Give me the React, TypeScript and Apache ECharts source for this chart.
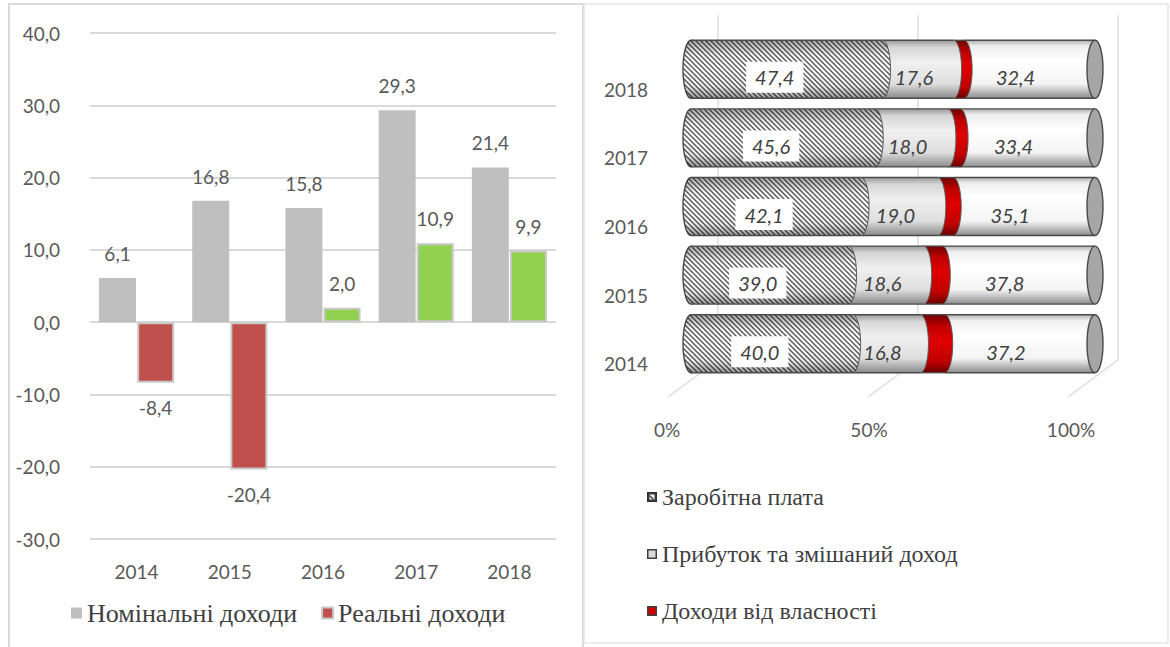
import React, { useEffect, useRef } from "react";
import * as echarts from "echarts";

// ---- Data (left chart) ----
const years = ["2014", "2015", "2016", "2017", "2018"];
const nominalIncome = [6.1, 16.8, 15.8, 29.3, 21.4];
const realIncome = [-8.4, -20.4, 2.0, 10.9, 9.9];
const leftTicks = { min: -30, max: 40, step: 10 };

// ---- Data (right chart, structure %, 2014..2018) ----
const wages = [40.0, 39.0, 42.1, 45.6, 47.4];
const profit = [16.8, 18.6, 19.0, 18.0, 17.6];
const property = [6.0, 4.6, 3.8, 3.0, 2.6];
const transfers = [37.2, 37.8, 35.1, 33.4, 32.4];
const pctTicks = [0, 50, 100];

const NAME_NOM = "Номінальні доходи";
const NAME_REAL = "Реальні доходи";
const NAME_WAGES = "Заробітна плата";
const NAME_PROFIT = "Прибуток та змішаний доход";
const NAME_PROP = "Доходи від власності";
const NAME_TRANSF = "Соціальні допомоги та інші поточні трансферти";

const OUTLINE = "#4a4a4a";
const NUM_FONT = "Lato";
const SERIF = "Liberation Serif";

const fmt = (v: number) => v.toFixed(1).replace(".", ",");

const svgUrl = (svg: string) =>
  "data:image/svg+xml;charset=utf-8," + encodeURIComponent(svg);

const hatchSvg =
  "<svg xmlns='http://www.w3.org/2000/svg' width='5' height='5'>" +
  "<rect width='5' height='5' fill='#ffffff'/>" +
  "<path d='M-1,-1 L6,6 M-1,4 L1,6 M4,-1 L6,1' stroke='#555555' stroke-width='1.3'/></svg>";

const hatchPattern: any = {
  image: svgUrl(hatchSvg),
  repeat: "repeat",
  imageWidth: 5,
  imageHeight: 5,
};

const vGrad = (stops: [number, string][]) => ({
  type: "linear",
  x: 0,
  y: 0,
  x2: 0,
  y2: 1,
  colorStops: stops.map(([offset, color]) => ({ offset, color })),
});

const hatchShade = vGrad([
  [0, "rgba(0,0,0,0.35)"],
  [0.25, "rgba(0,0,0,0.05)"],
  [0.5, "rgba(0,0,0,0)"],
  [0.8, "rgba(0,0,0,0.08)"],
  [1, "rgba(0,0,0,0.4)"],
]);
const greyFill = vGrad([
  [0, "#9a9a9a"],
  [0.12, "#d6d6d6"],
  [0.38, "#f0f0f0"],
  [0.75, "#dedede"],
  [1, "#8a8a8a"],
]);
const redFill = vGrad([
  [0, "#700000"],
  [0.2, "#c00000"],
  [0.45, "#e00000"],
  [0.8, "#c00000"],
  [1, "#6a0000"],
]);
const whiteFill = vGrad([
  [0, "#b0b0b0"],
  [0.1, "#efefef"],
  [0.35, "#ffffff"],
  [0.75, "#f4f4f4"],
  [1, "#8c8c8c"],
]);

const iconUrl = (inner: string) =>
  "image://" +
  svgUrl(
    "<svg xmlns='http://www.w3.org/2000/svg' width='10' height='10'>" + inner + "</svg>"
  );

const iconWages = iconUrl(
  "<rect x='0.75' y='0.75' width='8.5' height='8.5' fill='#404040' stroke='#303030' stroke-width='1.5'/>" +
    "<rect x='2.5' y='2.5' width='5' height='5' fill='#ffffff'/>" +
    "<path d='M2.5,3.5 L6.5,7.5' stroke='#404040' stroke-width='1.6'/>"
);
const iconProfit = iconUrl(
  "<rect x='0.75' y='0.75' width='8.5' height='8.5' fill='#d9d9d9' stroke='#404040' stroke-width='1.5'/>"
);
const iconProp = iconUrl(
  "<rect x='0.75' y='0.75' width='8.5' height='8.5' fill='#d00000' stroke='#404040' stroke-width='1.5'/>"
);

type Kind = "first" | "mid" | "last";

function makeCylinder(kind: Kind, fill: any, shade: any, boxed: boolean, dx: number) {
  return (params: any, api: any) => {
    const s = api.value(0);
    const v = api.value(1);
    const c = api.value(2);
    const a = api.coord([s, c]);
    const b = api.coord([s + v, c]);
    const h = api.size([0, 1])[1] * 0.845;
    const cy = a[1];
    const top = cy - h / 2;
    const rx = 8;
    const ry = h / 2;
    const ch: any[] = [];
    if (kind === "first") {
      ch.push({
        type: "ellipse",
        shape: { cx: a[0], cy, rx, ry },
        style: { fill, stroke: OUTLINE, lineWidth: 1.4 },
      });
      if (shade)
        ch.push({ type: "ellipse", shape: { cx: a[0], cy, rx, ry }, style: { fill: shade } });
    }
    if (kind !== "last") {
      ch.push({
        type: "ellipse",
        shape: { cx: b[0], cy, rx, ry },
        style: { fill, stroke: "#5a5a5a", lineWidth: 1 },
      });
      if (shade)
        ch.push({ type: "ellipse", shape: { cx: b[0], cy, rx, ry }, style: { fill: shade } });
    }
    ch.push({
      type: "rect",
      shape: { x: a[0], y: top, width: b[0] - a[0], height: h },
      style: { fill },
    });
    if (shade)
      ch.push({
        type: "rect",
        shape: { x: a[0], y: top, width: b[0] - a[0], height: h },
        style: { fill: shade },
      });
    ch.push({
      type: "line",
      shape: { x1: a[0], y1: top, x2: b[0], y2: top },
      style: { stroke: OUTLINE, lineWidth: 1.4 },
    });
    ch.push({
      type: "line",
      shape: { x1: a[0], y1: top + h, x2: b[0], y2: top + h },
      style: { stroke: OUTLINE, lineWidth: 1.4 },
    });
    if (kind === "last") {
      ch.push({
        type: "ellipse",
        shape: { cx: b[0], cy, rx, ry },
        style: { fill: "#a6a6a6", stroke: OUTLINE, lineWidth: 1.4 },
      });
    }
    if (kind !== "mid" || v > 10) {
      ch.push({
        type: "text",
        x: (a[0] + b[0]) / 2 + dx,
        y: cy + 8,
        style: {
          text: fmt(v),
          font: "italic 20px " + NUM_FONT,
          fill: "#404040",
          align: "center",
          verticalAlign: "middle",
          backgroundColor: boxed ? "#ffffff" : "transparent",
          padding: boxed ? [6, 9, 5, 9] : 0,
        },
      });
    }
    return { type: "group", children: ch };
  };
}

export default function App() {
  const ref = useRef<HTMLDivElement>(null);

  useEffect(() => {
    if (!ref.current) return;
    const chart = echarts.init(ref.current, undefined, { renderer: "svg" });

    const parts = [wages, profit, property, transfers];
    const starts = parts.map((_, k) =>
      years.map((__, i) => parts.slice(0, k).reduce((acc, arr) => acc + arr[i], 0))
    );
    const segData = (k: number) => years.map((_, i) => [starts[k][i], parts[k][i], i]);

    const labelStyle = { color: "#595959", fontSize: 19, fontFamily: NUM_FONT };

    const option: any = {
      animation: false,
      backgroundColor: "#ffffff",
      graphic: [
        {
          type: "rect",
          shape: { x: 9, y: 4, width: 574, height: 680 },
          style: { fill: "none", stroke: "#d9d9d9", lineWidth: 2 },
          silent: true,
          z: -1,
        },
        {
          type: "rect",
          shape: { x: 584, y: 4, width: 584, height: 639 },
          style: { fill: "none", stroke: "#e6e6e6", lineWidth: 1.5 },
          silent: true,
          z: -1,
        },
      ],
      grid: [
        { left: 90, right: 614, top: 33, bottom: 108 },
        { left: 691, right: 75, top: 35, bottom: 269 },
        { left: 718, right: 52, top: 15, bottom: 287 },
      ],
      xAxis: [
        {
          type: "category",
          gridIndex: 0,
          data: years,
          axisLine: { show: false, onZero: false },
          axisTick: { show: false },
          axisLabel: { ...labelStyle, margin: 23 },
        },
        {
          type: "value",
          gridIndex: 1,
          min: 0,
          max: 100,
          interval: 50,
          axisLine: { show: false },
          axisTick: { show: false },
          splitLine: { show: false },
          axisLabel: {
            ...labelStyle,
            margin: 42,
            padding: [0, 48, 0, 0],
            formatter: "{value}%",
          },
        },
        {
          type: "value",
          gridIndex: 2,
          min: 0,
          max: 100,
          interval: 50,
          axisLine: { show: false },
          axisTick: { show: false },
          axisLabel: { show: false },
          splitLine: { show: true, lineStyle: { color: "#dcdcdc", width: 1.5 } },
        },
      ],
      yAxis: [
        {
          type: "value",
          gridIndex: 0,
          min: leftTicks.min,
          max: leftTicks.max,
          interval: leftTicks.step,
          axisLine: { show: false },
          axisTick: { show: false },
          splitLine: { lineStyle: { color: "#d9d9d9", width: 2 } },
          axisLabel: { ...labelStyle, margin: 30, formatter: (v: number) => fmt(v) },
        },
        {
          type: "category",
          gridIndex: 1,
          data: years,
          axisLine: { show: false },
          axisTick: { show: false },
          axisLabel: {
            ...labelStyle,
            margin: 43,
            verticalAlign: "top",
            lineHeight: 40,
          },
        },
        {
          type: "value",
          gridIndex: 2,
          min: 0,
          max: 1,
          show: false,
        },
      ],
      legend: [
        {
          data: [NAME_NOM, NAME_REAL],
          left: 66,
          top: 595,
          icon: "rect",
          itemWidth: 11,
          itemHeight: 11,
          itemGap: 24,
          textStyle: { fontFamily: SERIF, fontSize: 26, color: "#404040" },
          selectedMode: false,
        },
        {
          data: [
            { name: NAME_WAGES, icon: iconWages },
            { name: NAME_PROFIT, icon: iconProfit },
            { name: NAME_PROP, icon: iconProp },
          ],
          orient: "vertical",
          left: 642,
          top: 480,
          itemWidth: 10,
          itemHeight: 10,
          itemGap: 33,
          textStyle: { fontFamily: SERIF, fontSize: 24, color: "#404040" },
          selectedMode: false,
        },
      ],
      series: [
        {
          name: NAME_NOM,
          type: "bar",
          xAxisIndex: 0,
          yAxisIndex: 0,
          data: nominalIncome,
          barWidth: 37,
          barGap: "3%",
          itemStyle: { color: "#bfbfbf" },
          label: {
            show: true,
            position: "top",
            distance: 15,
            ...labelStyle,
            formatter: (p: any) => fmt(p.value),
          },
        },
        {
          name: NAME_REAL,
          type: "bar",
          xAxisIndex: 0,
          yAxisIndex: 0,
          barWidth: 37,
          barGap: "3%",
          itemStyle: { color: "#c0504d", borderColor: "#c8c8c8", borderWidth: 2 },
          data: realIncome.map((v) => ({
            value: v,
            itemStyle: { color: v < 0 ? "#c0504d" : "#92d050" },
            label: { position: v < 0 ? "bottom" : "top" },
          })),
          label: {
            show: true,
            distance: 15,
            ...labelStyle,
            formatter: (p: any) => fmt(p.value),
          },
        },
        {
          type: "custom",
          xAxisIndex: 2,
          yAxisIndex: 2,
          silent: true,
          z: 1,
          data: pctTicks.map((v) => [v, 0]),
          renderItem: (params: any, api: any) => {
            const p = api.coord([api.value(0), 0]);
            return {
              type: "line",
              shape: { x1: p[0], y1: p[1], x2: p[0] - 50, y2: p[1] + 37 },
              style: { stroke: "#dcdcdc", lineWidth: 1.5 },
            };
          },
        },
        {
          name: NAME_WAGES,
          type: "custom",
          xAxisIndex: 1,
          yAxisIndex: 1,
          z: 10,
          itemStyle: { color: "#606060" },
          encode: { x: 0, y: 2 },
          data: segData(0),
          renderItem: makeCylinder("first", hatchPattern, hatchShade, true, -12),
        },
        {
          name: NAME_PROFIT,
          type: "custom",
          xAxisIndex: 1,
          yAxisIndex: 1,
          z: 9,
          itemStyle: { color: "#d9d9d9" },
          encode: { x: 0, y: 2 },
          data: segData(1),
          renderItem: makeCylinder("mid", greyFill, null, false, -4),
        },
        {
          name: NAME_PROP,
          type: "custom",
          xAxisIndex: 1,
          yAxisIndex: 1,
          z: 8,
          itemStyle: { color: "#d00000" },
          encode: { x: 0, y: 2 },
          data: segData(2),
          renderItem: makeCylinder("mid", redFill, null, false, 0),
        },
        {
          name: NAME_TRANSF,
          type: "custom",
          xAxisIndex: 1,
          yAxisIndex: 1,
          z: 7,
          itemStyle: { color: "#ffffff" },
          encode: { x: 0, y: 2 },
          data: segData(3),
          renderItem: makeCylinder("last", whiteFill, null, false, -14),
        },
      ],
    };

    chart.setOption(option);
    return () => chart.dispose();
  }, []);

  return (
    <div
      ref={ref}
      style={{ position: "absolute", left: 0, top: 0, width: 1170, height: 647 }}
    />
  );
}
